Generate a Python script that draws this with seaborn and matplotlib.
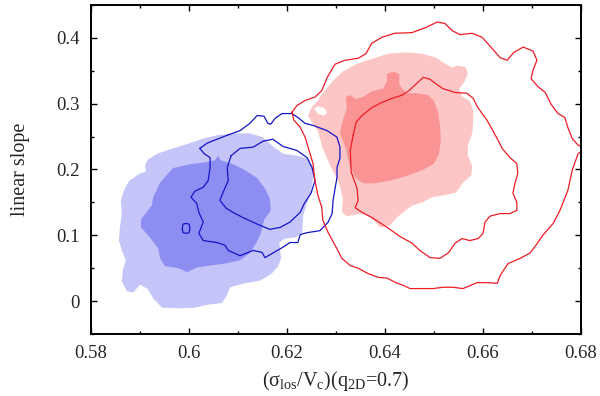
import matplotlib
matplotlib.use("Agg")
import matplotlib.pyplot as plt
from matplotlib.path import Path
from matplotlib.patches import PathPatch
import numpy as np
import pandas as pd
import seaborn as sns

# ---------------- data (contour outlines) ----------------
# blue: 68% / 95% filled regions
blue_fill_outer_x = [0.6090, 0.6124, 0.6151, 0.6171, 0.6192, 0.6220, 0.6241, 0.6251, 0.6253, 0.6249,
                     0.6239, 0.6233, 0.6231, 0.6218, 0.6196, 0.6184, 0.6186, 0.6188, 0.6182, 0.6169,
                     0.6145, 0.6114, 0.6084, 0.6076, 0.6067, 0.6043, 0.6012, 0.5976, 0.5945, 0.5927,
                     0.5916, 0.5900, 0.5886, 0.5873, 0.5863, 0.5865, 0.5871, 0.5863, 0.5857, 0.5859,
                     0.5863, 0.5861, 0.5867, 0.5878, 0.5900, 0.5912, 0.5910, 0.5916, 0.5935, 0.5967,
                     0.6002, 0.6029, 0.6057]
blue_fill_outer_y = [0.255, 0.255, 0.249, 0.235, 0.224, 0.221, 0.217, 0.205, 0.187, 0.165,
                     0.145, 0.130, 0.104, 0.097, 0.095, 0.089, 0.077, 0.065, 0.053, 0.042,
                     0.031, 0.027, 0.021, 0.007, -0.003, -0.005, -0.010, -0.011, -0.010, 0.004,
                     0.018, 0.025, 0.013, 0.015, 0.030, 0.047, 0.062, 0.077, 0.092, 0.112,
                     0.133, 0.153, 0.168, 0.183, 0.194, 0.197, 0.206, 0.215, 0.224, 0.232,
                     0.240, 0.247, 0.252]

blue_fill_inner_x = [0.5927, 0.5941, 0.5967, 0.6002, 0.6033, 0.6053, 0.6059, 0.6065, 0.6090, 0.6114,
                     0.6139, 0.6155, 0.6165, 0.6167, 0.6153, 0.6147, 0.6137, 0.6124, 0.6104, 0.6073,
                     0.6043, 0.6016, 0.5996, 0.5978, 0.5951, 0.5941, 0.5937, 0.5920, 0.5902, 0.5902,
                     0.5914, 0.5924]
blue_fill_inner_y = [0.158, 0.180, 0.202, 0.208, 0.211, 0.214, 0.221, 0.214, 0.208, 0.199,
                     0.187, 0.171, 0.156, 0.138, 0.123, 0.104, 0.088, 0.073, 0.062, 0.057,
                     0.054, 0.051, 0.044, 0.050, 0.053, 0.065, 0.080, 0.097, 0.112, 0.124,
                     0.136, 0.145]

# blue: line contours
blue_line_outer_x = [0.6022, 0.6037, 0.6057, 0.6078, 0.6104, 0.6124, 0.6139, 0.6153, 0.6161, 0.6167,
                     0.6176, 0.6190, 0.6210, 0.6224, 0.6237, 0.6253, 0.6282, 0.6302, 0.6308, 0.6308,
                     0.6302, 0.6302, 0.6298, 0.6294, 0.6292, 0.6284, 0.6267, 0.6241, 0.6227, 0.6222,
                     0.6206, 0.6192, 0.6171, 0.6155, 0.6149, 0.6131, 0.6104, 0.6080, 0.6073, 0.6057,
                     0.6029, 0.6020, 0.6029, 0.6020, 0.6016, 0.6004, 0.6012, 0.6029, 0.6039, 0.6043,
                     0.6043, 0.6031]
blue_line_outer_y = [0.232, 0.240, 0.246, 0.252, 0.259, 0.270, 0.282, 0.281, 0.270, 0.269,
                     0.278, 0.285, 0.285, 0.278, 0.270, 0.267, 0.259, 0.249, 0.234, 0.217,
                     0.203, 0.188, 0.171, 0.153, 0.133, 0.120, 0.107, 0.104, 0.101, 0.089,
                     0.089, 0.082, 0.073, 0.066, 0.074, 0.077, 0.069, 0.077, 0.085, 0.089,
                     0.092, 0.103, 0.120, 0.135, 0.148, 0.158, 0.167, 0.173, 0.183, 0.203,
                     0.218, 0.224]

blue_line_inner_x = [0.6086, 0.6104, 0.6131, 0.6151, 0.6171, 0.6192, 0.6220, 0.6241, 0.6251, 0.6257,
                     0.6249, 0.6235, 0.6227, 0.6206, 0.6186, 0.6165, 0.6139, 0.6110, 0.6094, 0.6076,
                     0.6063, 0.6071, 0.6080, 0.6078]
blue_line_inner_y = [0.221, 0.232, 0.234, 0.243, 0.246, 0.235, 0.229, 0.218, 0.203, 0.183,
                     0.164, 0.148, 0.135, 0.120, 0.112, 0.109, 0.117, 0.127, 0.133, 0.141,
                     0.153, 0.168, 0.183, 0.203]

blue_line_island_x = [0.5986, 0.5988, 0.5994, 0.6000, 0.6002, 0.6000, 0.5994, 0.5988]
blue_line_island_y = [0.110, 0.117, 0.118, 0.117, 0.110, 0.104, 0.103, 0.104]

# red: filled regions
red_fill_outer_x = [0.6247, 0.6253, 0.6263, 0.6273, 0.6294, 0.6314, 0.6341, 0.6369, 0.6406, 0.6441,
                    0.6476, 0.6504, 0.6522, 0.6537, 0.6549, 0.6565, 0.6569, 0.6561, 0.6551, 0.6557,
                    0.6573, 0.6580, 0.6580, 0.6578, 0.6569, 0.6569, 0.6578, 0.6576, 0.6559, 0.6545,
                    0.6522, 0.6496, 0.6476, 0.6455, 0.6439, 0.6424, 0.6410, 0.6390, 0.6376, 0.6361,
                    0.6343, 0.6322, 0.6312, 0.6314, 0.6306, 0.6288, 0.6273, 0.6263, 0.6251, 0.6243]
red_fill_outer_y = [0.290, 0.297, 0.305, 0.316, 0.335, 0.349, 0.360, 0.367, 0.376, 0.378,
                    0.376, 0.370, 0.361, 0.355, 0.358, 0.355, 0.345, 0.332, 0.322, 0.311,
                    0.304, 0.290, 0.275, 0.255, 0.237, 0.221, 0.205, 0.191, 0.180, 0.165,
                    0.161, 0.158, 0.150, 0.145, 0.136, 0.127, 0.115, 0.112, 0.123, 0.132,
                    0.132, 0.129, 0.135, 0.156, 0.180, 0.206, 0.232, 0.258, 0.272, 0.281]
red_fill_hole_x = [0.6255, 0.6263, 0.6276, 0.6282, 0.6276, 0.6263]
red_fill_hole_y = [0.293, 0.296, 0.293, 0.287, 0.282, 0.284]

red_fill_inner_x = [0.6308, 0.6314, 0.6322, 0.6320, 0.6329, 0.6341, 0.6357, 0.6373, 0.6396, 0.6404,
                    0.6404, 0.6416, 0.6429, 0.6429, 0.6443, 0.6463, 0.6488, 0.6500, 0.6508, 0.6512,
                    0.6514, 0.6510, 0.6500, 0.6476, 0.6443, 0.6410, 0.6380, 0.6355, 0.6339, 0.6327,
                    0.6320]
red_fill_inner_y = [0.255, 0.275, 0.293, 0.310, 0.313, 0.307, 0.311, 0.319, 0.323, 0.334,
                    0.345, 0.349, 0.345, 0.329, 0.316, 0.316, 0.313, 0.304, 0.288, 0.267,
                    0.244, 0.224, 0.209, 0.199, 0.190, 0.183, 0.179, 0.179, 0.188, 0.208,
                    0.232]

# red: line contours
red_line_outer_x = [0.6210, 0.6220, 0.6237, 0.6257, 0.6271, 0.6282, 0.6298, 0.6318, 0.6345, 0.6361,
                    0.6373, 0.6394, 0.6420, 0.6455, 0.6484, 0.6506, 0.6522, 0.6537, 0.6553, 0.6578,
                    0.6598, 0.6616, 0.6635, 0.6649, 0.6663, 0.6682, 0.6702, 0.6710, 0.6702, 0.6698,
                    0.6712, 0.6727, 0.6739, 0.6753, 0.6767, 0.6773, 0.6782, 0.6794, 0.6810, 0.6794,
                    0.6782, 0.6773, 0.6757, 0.6743, 0.6722, 0.6708, 0.6696, 0.6676, 0.6651, 0.6635,
                    0.6629, 0.6608, 0.6588, 0.6559, 0.6539, 0.6518, 0.6498, 0.6478, 0.6451, 0.6437,
                    0.6422, 0.6404, 0.6386, 0.6365, 0.6345, 0.6329, 0.6312, 0.6298, 0.6284, 0.6273,
                    0.6271, 0.6263, 0.6257, 0.6253, 0.6245, 0.6237, 0.6227, 0.6214]
red_line_outer_y = [0.287, 0.297, 0.305, 0.310, 0.320, 0.340, 0.360, 0.366, 0.369, 0.376,
                    0.392, 0.401, 0.407, 0.408, 0.416, 0.424, 0.422, 0.411, 0.405, 0.407,
                    0.401, 0.386, 0.370, 0.366, 0.378, 0.386, 0.380, 0.366, 0.351, 0.338,
                    0.326, 0.317, 0.299, 0.285, 0.279, 0.264, 0.247, 0.237, 0.232, 0.224,
                    0.199, 0.168, 0.138, 0.118, 0.100, 0.085, 0.073, 0.065, 0.057, 0.039,
                    0.027, 0.028, 0.028, 0.019, 0.021, 0.021, 0.019, 0.019, 0.019, 0.024,
                    0.028, 0.035, 0.036, 0.042, 0.050, 0.054, 0.065, 0.085, 0.104, 0.123,
                    0.142, 0.161, 0.183, 0.209, 0.229, 0.249, 0.264, 0.275]

red_line_inner_x = [0.6335, 0.6341, 0.6353, 0.6373, 0.6394, 0.6414, 0.6435, 0.6449, 0.6465, 0.6478,
                    0.6492, 0.6506, 0.6518, 0.6543, 0.6567, 0.6580, 0.6588, 0.6598, 0.6608, 0.6620,
                    0.6631, 0.6639, 0.6655, 0.6669, 0.6671, 0.6665, 0.6661, 0.6669, 0.6669, 0.6655,
                    0.6635, 0.6614, 0.6604, 0.6600, 0.6590, 0.6573, 0.6557, 0.6543, 0.6529, 0.6512,
                    0.6492, 0.6471, 0.6455, 0.6431, 0.6410, 0.6394, 0.6373, 0.6353, 0.6339, 0.6345,
                    0.6343, 0.6331, 0.6329]
red_line_inner_y = [0.252, 0.272, 0.282, 0.294, 0.302, 0.308, 0.313, 0.320, 0.331, 0.340,
                    0.337, 0.329, 0.323, 0.317, 0.316, 0.308, 0.296, 0.285, 0.275, 0.259,
                    0.244, 0.232, 0.218, 0.209, 0.194, 0.179, 0.164, 0.150, 0.138, 0.133,
                    0.133, 0.129, 0.120, 0.103, 0.095, 0.092, 0.095, 0.088, 0.073, 0.065,
                    0.066, 0.077, 0.088, 0.098, 0.109, 0.117, 0.127, 0.135, 0.142, 0.153,
                    0.171, 0.196, 0.229]

x_ticks = [0.58, 0.60, 0.62, 0.64, 0.66, 0.68]
x_tick_labels = ["0.58", "0.6", "0.62", "0.64", "0.66", "0.68"]
y_ticks = [0.0, 0.1, 0.2, 0.3, 0.4]
y_tick_labels = ["0", "0.1", "0.2", "0.3", "0.4"]

# ---------------- style ----------------
sns.set_style("ticks")
plt.rcParams["font.family"] = ["Liberation Serif", "DejaVu Serif"]
plt.rcParams["mathtext.fontset"] = "custom"
plt.rcParams["mathtext.rm"] = "Liberation Serif"
plt.rcParams["mathtext.it"] = "Liberation Serif:italic"

C_BLUE_LIGHT = "#c5c5fa"
C_BLUE_DARK = "#8e8ef2"
C_RED_LIGHT = "#fcc6c6"
C_RED_DARK = "#fa9393"
C_BLUE_LINE = "#1414c8"
C_RED_LINE = "#ee1c25"

fig = plt.figure(figsize=(6.0, 3.96), dpi=100)
ax = fig.add_axes([0.1517, 0.1566, 0.8167, 0.8308])


def closed(xs, ys):
    return list(xs) + [xs[0]], list(ys) + [ys[0]]


# filled regions
ax.fill(blue_fill_outer_x, blue_fill_outer_y, color=C_BLUE_LIGHT, lw=0, zorder=1)
ax.fill(blue_fill_inner_x, blue_fill_inner_y, color=C_BLUE_DARK, lw=0, zorder=2)

outer = list(zip(red_fill_outer_x, red_fill_outer_y))
hole = list(zip(red_fill_hole_x, red_fill_hole_y))[::-1]
verts = outer + [outer[0]] + hole + [hole[0]]
codes = ([Path.MOVETO] + [Path.LINETO] * (len(outer) - 1) + [Path.CLOSEPOLY]
         + [Path.MOVETO] + [Path.LINETO] * (len(hole) - 1) + [Path.CLOSEPOLY])
ax.add_patch(PathPatch(Path(verts, codes), facecolor=C_RED_LIGHT, lw=0, zorder=1))
ax.fill(red_fill_inner_x, red_fill_inner_y, color=C_RED_DARK, lw=0, zorder=2)

# line contours with seaborn
for xs, ys, col in [
    (blue_line_outer_x, blue_line_outer_y, C_BLUE_LINE),
    (blue_line_inner_x, blue_line_inner_y, C_BLUE_LINE),
    (blue_line_island_x, blue_line_island_y, C_BLUE_LINE),
    (red_line_outer_x, red_line_outer_y, C_RED_LINE),
    (red_line_inner_x, red_line_inner_y, C_RED_LINE),
]:
    cx, cy = closed(xs, ys)
    df = pd.DataFrame({"x": cx, "y": cy})
    sns.lineplot(data=df, x="x", y="y", sort=False, estimator=None,
                 color=col, lw=0.9, ax=ax, zorder=3)

ax.set_xlim(0.58, 0.68)
ax.set_ylim(-0.05, 0.45)
ax.set_xticks(x_ticks)
ax.set_xticklabels(x_tick_labels)
ax.set_yticks(y_ticks)
ax.set_yticklabels(y_tick_labels)
ax.set_xticks(np.arange(0.59, 0.68, 0.02), minor=True)
ax.set_yticks([-0.05, 0.05, 0.15, 0.25, 0.35, 0.45], minor=True)

ax.tick_params(which="both", direction="in", top=True, right=True,
               labelsize=13.5, color="black", width=1.0)
ax.tick_params(which="major", length=4.5, pad=8)
ax.tick_params(which="minor", length=2.5)
for s in ax.spines.values():
    s.set_linewidth(1.4)
    s.set_color("black")
    s.set_zorder(5)

ax.set_xlabel("(σ$_{\\rm los}$/V$_{\\rm c}$)(q$_{\\rm 2D}$=0.7)", fontsize=14.5, labelpad=5)
ax.set_ylabel("linear slope", fontsize=14.5, labelpad=19)

fig.savefig("out.png", dpi=100)
